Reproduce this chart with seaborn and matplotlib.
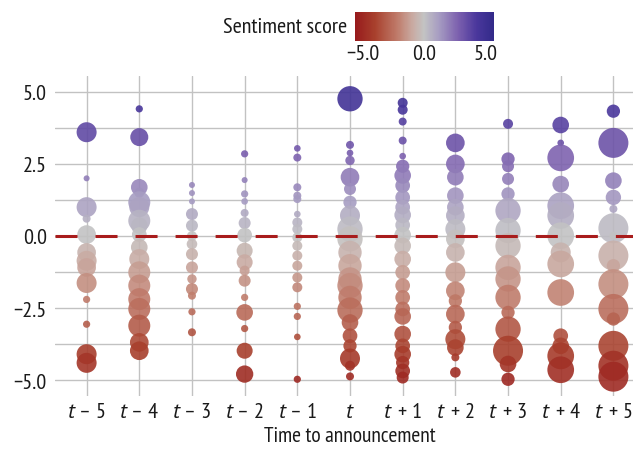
import pandas as pd
import matplotlib
matplotlib.use('Agg')  # Non-interactive backend
import matplotlib.pyplot as plt
from matplotlib import font_manager
from matplotlib.colors import LinearSegmentedColormap, Normalize
from matplotlib.cm import ScalarMappable
import seaborn as sns

# categories and tick labels
times = ["t-5", "t-4", "t-3", "t-2", "t-1", "t", "t+1", "t+2", "t+3", "t+4", "t+5"]
tick_labels = [r"$t$ – 5", r"$t$ – 4", r"$t$ – 3", r"$t$ – 2", r"$t$ – 1", r"$t$",
               r"$t\,$ + 1", r"$t\,$ + 2", r"$t\,$ + 3", r"$t\,$ + 4", r"$t\,$ + 5"]

# sentiment score and volume of each bubble, per period
sent_m5 = [3.6, 2.0, 1.0, 0.6, 0.05, -0.57, -0.86, -1.09, -1.63, -2.2, -3.06, -4.1, -4.4]
vol_m5 = [100, 9, 100, 16, 87, 87, 100, 87, 100, 13, 13, 100, 100]
sent_m4 = [4.41, 3.43, 1.69, 1.5, 1.17, 1.0, 0.53, 0.36, 0.05, -0.39, -0.8, -1.26, -1.72,
           -2.19, -2.53, -3.11, -3.69, -3.98]
vol_m4 = [13, 81, 69, 25, 121, 100, 121, 69, 54, 69, 100, 121, 121, 121, 121, 121, 87, 87]
sent_m3 = [1.77, 1.49, 1.2, 0.76, 0.36, 0.0, -0.28, -0.63, -1.09, -1.49, -1.84, -2.07,
           -2.63, -3.34]
vol_m3 = [9, 9, 9, 36, 36, 25, 28, 36, 36, 22, 36, 16, 13, 16]
sent_m2 = [2.85, 1.94, 1.46, 1.2, 0.8, 0.45, 0.03, -0.51, -0.91, -1.2, -1.55, -2.13,
           -2.65, -3.21, -3.98, -4.79]
vol_m2 = [13, 9, 13, 11, 16, 36, 54, 64, 64, 25, 36, 13, 69, 13, 64, 75]
sent_m1 = [3.04, 2.72, 1.69, 1.4, 1.28, 0.76, 0.47, 0.24, -0.05, -0.34, -0.68, -1.03,
           -1.44, -1.78, -2.44, -2.79, -3.5, -4.97]
vol_m1 = [11, 16, 16, 16, 16, 11, 25, 25, 25, 25, 25, 25, 25, 25, 13, 13, 11, 13]
sent_0 = [4.76, 3.16, 2.88, 2.62, 2.04, 1.63, 1.17, 0.71, 0.24, -0.1, -0.57, -1.03,
          -1.49, -1.72, -2.13, -2.57, -3.0, -3.46, -3.81, -4.25, -4.5, -4.87]
vol_0 = [160, 16, 11, 22, 87, 36, 44, 100, 160, 160, 136, 136, 136, 160, 136, 160,
         69, 54, 44, 100, 25, 16]
sent_p1 = [4.62, 4.38, 3.97, 3.31, 2.77, 2.42, 2.1, 1.75, 1.34, 1.0, 0.73, 0.38, 0.03,
           -0.34, -0.8, -1.26, -1.72, -2.13, -2.53, -2.79, -3.4, -3.81, -4.1, -4.39,
           -4.68, -4.91]
vol_p1 = [25, 25, 16, 16, 11, 44, 69, 54, 54, 54, 69, 54, 69, 69, 69, 54, 54, 54, 54,
          69, 69, 54, 69, 44, 54, 36]
sent_p2 = [3.23, 2.5, 2.04, 1.4, 1.0, 0.71, 0.24, -0.1, -0.57, -1.26, -1.9, -2.25,
           -2.71, -3.17, -3.58, -3.87, -4.21, -4.73]
vol_p2 = [87, 87, 69, 69, 69, 87, 100, 87, 87, 100, 87, 44, 87, 44, 100, 69, 16, 28]
sent_p3 = [3.89, 2.67, 2.42, 1.98, 1.46, 0.88, 0.19, -0.34, -1.09, -1.49, -2.13, -2.65,
           -3.23, -3.98, -4.44, -4.97]
vol_p3 = [25, 44, 36, 36, 44, 160, 160, 160, 160, 160, 160, 44, 160, 225, 69, 44]
sent_p4 = [3.85, 3.23, 2.71, 1.8, 1.05, 0.71, 0.01, -0.57, -0.97, -1.96, -3.46, -3.81,
           -4.16, -4.64]
vol_p4 = [69, 11, 178, 69, 178, 178, 178, 100, 178, 178, 54, 69, 178, 178]
sent_p5 = [4.33, 3.23, 1.92, 1.34, 0.94, 0.27, 0.01, -0.68, -1.03, -1.67, -2.53, -2.88,
           -3.81, -4.5, -4.88]
vol_p5 = [44, 225, 69, 59, 16, 225, 16, 225, 44, 225, 225, 44, 225, 225, 225]

sentiments = [sent_m5, sent_m4, sent_m3, sent_m2, sent_m1, sent_0,
              sent_p1, sent_p2, sent_p3, sent_p4, sent_p5]
volumes = [vol_m5, vol_m4, vol_m3, vol_m2, vol_m1, vol_0,
           vol_p1, vol_p2, vol_p3, vol_p4, vol_p5]

frames = [pd.DataFrame({'time': t, 'sentiment': s, 'volume': v})
          for t, s, v in zip(times, sentiments, volumes)]
df = pd.concat(frames, ignore_index=True)

# fonts: pick a narrow humanist face if one is installed
sns.set_style("white")
names = {f.name for f in font_manager.fontManager.ttflist}
base = next((n for n in ['PT Sans Narrow', 'Roboto Condensed', 'Fira Sans Condensed',
                         'Liberation Sans Narrow'] if n in names), 'DejaVu Sans')
italic = 'PT Sans' if (base == 'PT Sans Narrow' and 'PT Sans' in names) else base
plt.rcParams['font.family'] = [base, 'DejaVu Sans']
plt.rcParams['mathtext.fontset'] = 'custom'
plt.rcParams['mathtext.rm'] = base
plt.rcParams['mathtext.it'] = f'{italic}:italic'
TXT = '#1a1a1a'

# diverging red - gray - purple colormap
vmin, vmax = -5.6, 5.7
anchors = [(-5.6, '#971a1c'), (-4.0, '#a8402d'), (-2.2, '#bf7a69'), (-0.9, '#c9aba3'),
           (0.0, '#c3c3c3'), (1.2, '#a79dc2'), (2.8, '#7c60ae'), (4.3, '#4a379c'),
           (5.7, '#322a89')]
cmap = LinearSegmentedColormap.from_list(
    'sent', [((v - vmin) / (vmax - vmin), c) for v, c in anchors])
norm = Normalize(vmin, vmax)

fig = plt.figure(figsize=(6.33, 4.52), dpi=100)
ax = fig.add_axes([55 / 633, 1 - 397 / 452, 590 / 633, 320 / 452])

sns.scatterplot(data=df, x='time', y='sentiment', hue='sentiment', size='volume',
                palette=cmap, hue_norm=norm, sizes=(0, 467), size_norm=(0, 225),
                alpha=0.9, linewidth=0, legend=False, ax=ax, zorder=2)

ax.axhline(0, color='#a81c1c', lw=2.2, dashes=(7.2, 5.9), zorder=5)

ax.set_xlim(-0.6, 10.6)
ax.set_ylim(-5.55, 5.55)
ax.set_xticks(range(len(times)))
ax.set_xticklabels(tick_labels)
ax.set_yticks([-5, -2.5, 0, 2.5, 5])
ax.set_yticklabels(['−5.0', '−2.5', '0.0', '2.5', '5.0'])
ax.set_yticks([-3.75, -1.25, 1.25, 3.75], minor=True)
ax.grid(True, which='both', color='#c2c2c2', lw=1.0)
ax.set_axisbelow(True)
for sp in ax.spines.values():
    sp.set_visible(False)
ax.tick_params(which='both', length=0, labelsize=16, colors=TXT)
ax.tick_params(axis='y', pad=6)
ax.tick_params(axis='x', pad=4)
ax.set_xlabel('Time to announcement', fontsize=15.5, labelpad=4, color=TXT)
ax.set_ylabel('')

# colorbar
cax = fig.add_axes([355 / 633, 1 - 42 / 452, 139 / 633, 29 / 452])
cb = fig.colorbar(ScalarMappable(norm=norm, cmap=cmap), cax=cax, orientation='horizontal')
cb.outline.set_visible(False)
cb.set_ticks([-5, 0, 5])
cb.set_ticklabels(['−5.0', '0.0', '5.0'])
cax.tick_params(length=0, labelsize=16, pad=2, colors=TXT)
fig.text(347 / 633, 1 - 27.5 / 452, 'Sentiment score', ha='right', va='center',
         fontsize=16, color=TXT)

fig.savefig('out.png', dpi=100)
plt.close(fig)
